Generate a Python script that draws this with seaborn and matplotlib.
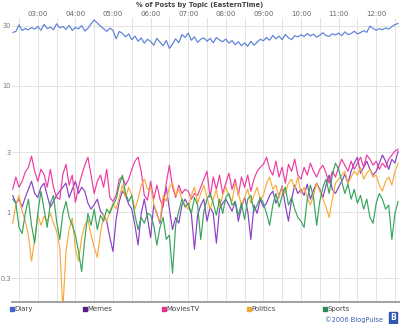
import matplotlib
matplotlib.use("Agg")
import matplotlib.pyplot as plt
import matplotlib.dates as mdates
from matplotlib.lines import Line2D
import numpy as np
import pandas as pd
import seaborn as sns

# 5-minute samples, 02:20 .. 12:35 (Eastern Time)
start_time = "2006-01-01 02:20"
step = "5min"

diary = [26.5, 27.0, 30.5, 27.5, 28.5, 27.8, 29.0, 28.2,
         29.5, 27.6, 30.8, 28.4, 29.2, 27.9, 31.0, 28.8, 29.6, 28.0, 30.2, 27.5,
         29.0, 28.3, 30.0, 27.2, 28.6, 31.0, 33.2, 31.5, 29.8, 28.4, 27.0, 28.7,
         27.5, 23.6, 27.0, 26.1, 24.5, 25.8, 23.2, 24.8, 22.6, 24.0, 21.8, 23.4,
         22.5, 21.0, 23.8, 22.2, 20.8, 22.9, 19.8, 21.5, 23.6, 22.0, 25.5, 24.2,
         26.2, 23.0, 24.5, 22.1, 23.4, 24.0, 22.6, 23.8, 22.0, 24.2, 23.1, 22.4,
         23.5, 21.8, 22.9, 21.2, 22.4, 20.8, 21.9, 20.6, 22.6, 21.0, 22.2, 23.4,
         22.8, 24.2, 23.0, 25.1, 23.6, 24.8, 23.2, 25.6, 24.0, 23.3, 25.0, 24.4,
         25.4, 24.6, 26.0, 24.9, 25.7, 24.3, 25.2, 26.4, 25.0, 24.7, 25.9, 25.3,
         26.2, 25.0, 26.8, 25.5, 26.0, 27.1, 25.8, 26.5, 27.4, 26.6, 29.8, 28.5,
         27.6, 28.4, 27.9, 28.8, 28.2, 29.5, 30.6, 31.2]

memes = [1.36, 1.18, 1.27, 1.10, 1.31, 1.52, 1.76, 1.41,
         1.31, 1.58, 1.70, 1.36, 1.10, 1.22, 1.36, 1.47, 1.58, 1.70, 1.31, 1.52,
         1.76, 1.41, 1.58, 1.47, 1.18, 1.06, 1.15, 1.27, 1.02, 0.95, 0.85, 0.63,
         0.49, 0.88, 1.22, 1.47, 1.36, 1.16, 1.06, 0.79, 0.55, 0.98, 1.27, 0.91,
         0.63, 1.14, 0.98, 0.82, 1.22, 1.58, 1.06, 0.73, 0.91, 0.82, 1.14, 1.27,
         1.14, 0.98, 0.51, 0.95, 1.14, 1.27, 0.85, 1.10, 0.98, 0.57, 1.06, 1.18,
         1.27, 1.14, 1.02, 1.22, 0.85, 1.10, 1.31, 1.02, 0.61, 1.14, 0.98, 1.27,
         1.10, 1.18, 1.36, 1.47, 1.18, 1.36, 1.61, 1.14, 0.85, 1.27, 1.64, 1.41,
         1.52, 1.36, 1.67, 1.27, 1.50, 1.70, 1.52, 1.31, 1.64, 1.97, 1.52, 1.41,
         1.58, 1.76, 2.00, 1.70, 2.11, 2.45, 2.73, 2.04, 2.27, 2.54, 2.19, 1.97,
         2.11, 2.45, 2.84, 2.54, 2.19, 2.63, 2.45, 3.05]

movies_tv = [1.52, 1.90, 1.58, 1.76, 2.08, 2.27, 2.78, 2.11,
             1.76, 2.19, 2.00, 1.58, 2.19, 1.58, 1.31, 1.27, 2.00, 2.40, 1.64, 1.97,
             1.20, 1.58, 1.97, 2.36, 2.73, 1.97, 1.41, 1.76, 1.97, 1.58, 2.19, 1.31,
             1.22, 1.36, 1.83, 1.90, 1.64, 1.83, 2.19, 2.54, 2.73, 2.11, 1.36, 1.25,
             1.76, 1.27, 1.64, 1.27, 1.10, 1.70, 2.36, 1.58, 1.31, 1.64, 1.41, 1.52,
             1.47, 1.27, 1.41, 1.36, 1.58, 1.83, 2.11, 1.31, 1.90, 1.52, 1.97, 1.41,
             1.70, 2.04, 1.52, 1.83, 1.36, 1.90, 1.58, 1.97, 1.47, 1.83, 2.11, 2.27,
             2.40, 2.73, 2.19, 1.97, 2.54, 1.90, 2.27, 1.70, 2.40, 2.11, 2.63, 1.97,
             1.83, 2.27, 1.97, 2.45, 2.11, 1.90, 2.19, 2.36, 2.04, 1.70, 2.11, 1.90,
             2.27, 2.63, 2.36, 2.11, 2.54, 2.19, 2.45, 2.73, 2.27, 2.84, 2.63, 2.36,
             2.54, 2.19, 2.45, 2.27, 2.63, 2.84, 3.05, 3.16]

politics = [0.82, 1.14, 1.36, 1.02, 0.85, 0.66, 0.41, 0.61,
            0.95, 0.79, 0.93, 0.85, 0.98, 0.82, 0.71, 0.53, 0.17, 0.49, 0.73, 0.90,
            0.51, 0.41, 0.63, 0.79, 0.88, 0.66, 0.53, 0.44, 0.68, 0.95, 0.85, 1.02,
            1.18, 1.06, 1.31, 1.64, 1.31, 1.58, 1.36, 1.06, 1.27, 1.64, 1.83, 1.52,
            1.58, 1.18, 0.95, 0.85, 1.36, 1.22, 1.58, 1.70, 1.36, 1.52, 1.27, 1.14,
            1.06, 1.36, 1.58, 1.18, 1.41, 1.64, 1.31, 1.06, 1.27, 1.52, 1.10, 1.36,
            1.58, 1.36, 1.22, 1.70, 1.41, 1.14, 1.31, 1.52, 1.18, 1.36, 1.58, 1.27,
            1.36, 1.70, 1.90, 1.52, 1.64, 1.31, 1.58, 1.41, 1.70, 1.83, 1.52, 1.90,
            1.41, 1.58, 1.31, 1.14, 1.36, 1.70, 1.47, 1.27, 1.10, 0.91, 1.27, 1.70,
            1.83, 1.97, 2.11, 1.70, 1.90, 2.11, 1.97, 2.27, 1.83, 2.04, 2.19, 1.90,
            1.97, 1.64, 1.47, 1.76, 1.90, 1.64, 2.11, 2.45]

sports = [1.27, 1.18, 0.76, 0.68, 0.98, 1.27, 0.79, 0.57,
          0.98, 1.47, 1.06, 0.76, 1.18, 1.36, 0.85, 0.61, 0.98, 1.22, 0.91, 0.79,
          0.66, 0.49, 0.34, 0.61, 0.98, 0.79, 1.06, 0.73, 0.95, 0.85, 1.06, 0.98,
          1.14, 1.27, 1.64, 1.97, 1.41, 1.22, 1.36, 0.95, 0.73, 0.91, 0.82, 0.98,
          0.95, 0.79, 0.55, 0.76, 0.91, 0.61, 0.66, 0.33, 0.79, 1.02, 1.27, 1.10,
          1.18, 0.98, 1.31, 1.14, 0.61, 1.02, 1.27, 1.41, 1.18, 0.95, 1.27, 0.98,
          1.31, 1.41, 1.14, 1.22, 0.95, 1.18, 0.88, 1.27, 1.36, 1.02, 1.14, 1.31,
          1.18, 0.98, 0.79, 1.14, 1.41, 1.10, 1.36, 1.58, 1.14, 1.31, 1.06, 0.91,
          0.85, 0.76, 1.27, 1.64, 1.31, 0.79, 1.22, 1.58, 1.83, 1.41, 1.97, 2.45,
          2.19, 1.76, 1.41, 1.67, 1.27, 1.52, 1.18, 1.36, 1.06, 1.27, 0.91, 0.82,
          1.18, 1.41, 1.27, 1.06, 1.14, 0.61, 0.98, 1.22]

topics = ["Diary", "Memes", "MoviesTV", "Politics", "Sports"]
series = [diary, memes, movies_tv, politics, sports]
line_colors = ["#5b80d8", "#8a3fc4", "#ef3aa2", "#f7ab3c", "#35a55c"]
legend_colors = ["#4466cc", "#5a1f8c", "#e8308c", "#f0a83c", "#2e8b57"]
y_ticks = [0.3, 1, 3, 10, 30]
y_tick_labels = ["0.3", "1", "3", "10", "30"]
title = "% of Posts by Topic (EasternTime)"

times = pd.date_range(start_time, periods=len(diary), freq=step)
frames = []
for name, vals in zip(topics, series):
    frames.append(pd.DataFrame({"time": times[:len(vals)], "pct": vals, "topic": name}))
df = pd.concat(frames, ignore_index=True)

sns.set_style("white")
plt.rcParams["font.family"] = ["DejaVu Sans"]

fig = plt.figure(figsize=(4.0, 3.24), dpi=100)
ax = fig.add_axes([12 / 400, 1 - 302 / 324, 388 / 400, (302 - 18) / 324])

sns.lineplot(data=df, x="time", y="pct", hue="topic", hue_order=topics,
             palette=dict(zip(topics, line_colors)), linewidth=0.85,
             legend=False, ax=ax)

ax.set_yscale("log")
ax.set_ylim(0.195, 34.5)
ax.set_xlim(pd.Timestamp("2006-01-01 02:18:50"), pd.Timestamp("2006-01-01 12:38:00"))
ax.set_yticks(y_ticks)
ax.set_yticklabels(y_tick_labels)
ax.yaxis.set_minor_locator(matplotlib.ticker.NullLocator())
ax.xaxis.set_major_locator(mdates.HourLocator(byhour=range(3, 13)))
ax.xaxis.set_major_formatter(mdates.DateFormatter("%H:%M"))
ax.xaxis.set_minor_locator(mdates.MinuteLocator(byminute=[30]))
ax.xaxis.tick_top()
ax.tick_params(axis="x", which="both", length=0, pad=0.5, labelsize=5, labelcolor="#666666")
ax.tick_params(axis="y", which="both", length=0, pad=0.8, labelsize=4.8, labelcolor="#777777")
ax.grid(True, which="major", axis="both", color="#e3e3e3", linewidth=0.7)
ax.grid(True, which="minor", axis="x", color="#e3e3e3", linewidth=0.7)
ax.set_axisbelow(True)
ax.set_xlabel("")
ax.set_ylabel("")
for side in ["top", "left", "right"]:
    ax.spines[side].set_visible(False)
ax.spines["bottom"].set_color("#999999")
ax.spines["bottom"].set_linewidth(1.3)

fig.text(0.5, 1 - 4.5 / 324, title, ha="center", va="center", fontsize=4.8,
         fontweight="bold", color="#444444")

legend_x = [10, 83, 162, 247, 323]
for name, col, lx in zip(topics, legend_colors, legend_x):
    h = Line2D([], [], marker="s", linestyle="none", markersize=2.6,
               markerfacecolor=col, markeredgecolor=col)
    fig.legend(handles=[h], labels=[name], loc="center left",
               bbox_to_anchor=(lx / 400 - 0.01, 1 - 309 / 324), frameon=False,
               fontsize=5, handlelength=0.6, handletextpad=0.15, borderpad=0,
               labelcolor="#444444")

fig.text(383 / 400, 1 - 319.5 / 324, "\u00a92006 BlogPulse", ha="right", va="center",
         fontsize=4.8, color="#3a5fb0")
fig.text(393 / 400, 1 - 318 / 324, "B", ha="center", va="center", fontsize=5.5,
         fontweight="bold", color="white",
         bbox=dict(boxstyle="square,pad=0.15", facecolor="#2f56b0", edgecolor="#2f56b0"))

fig.savefig("out.png", dpi=100)
